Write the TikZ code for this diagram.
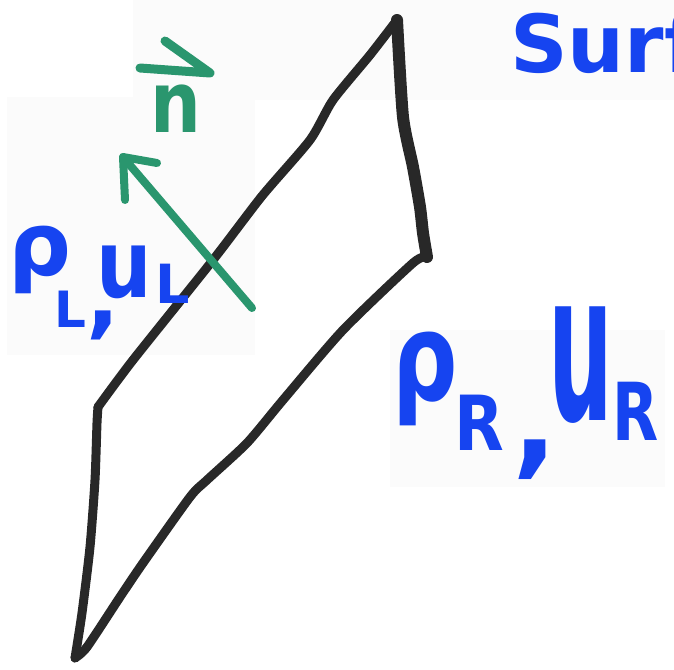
\documentclass[tikz,border=0pt]{standalone}
\usepackage{fontspec}
\setmainfont{DejaVu Sans}
\definecolor{ink}{RGB}{40,40,40}
\definecolor{penblue}{RGB}{22,68,240}
\definecolor{pengreen}{RGB}{42,150,110}
\definecolor{patch}{RGB}{251,251,251}
\newcommand{\piece}[4]{\rlap{\hspace{#1}\raisebox{#2}{\fontsize{#3}{#3}\selectfont #4}}}
\begin{document}
\begin{tikzpicture}[x=1pt,y=-1pt,
  edge/.style={draw=ink,line width=9pt,line cap=round,line join=round},
  thickedge/.style={draw=ink,line width=12pt,line cap=round,line join=round},
  normal/.style={draw=pengreen,line width=8pt,line cap=round,line join=round},
  bluetext/.style={text=penblue,font=\bfseries,inner sep=0pt,anchor=base west},
  greentext/.style={text=pengreen,font=\bfseries,inner sep=0pt,anchor=base west}]
\useasboundingbox (0,0) rectangle (674,669);
\fill[white] (0,0) rectangle (674,669);
% faint pasted patches
\fill[patch] (133,0) rectangle (674,100);
\fill[patch] (7,97) rectangle (255,355);
\fill[patch] (390,330) rectangle (665,487);

% surface corners
\coordinate (top) at (397,20);
\coordinate (left) at (98,407);
\coordinate (bot) at (75,658);
\coordinate (right) at (427,257);

% surface outline
\draw[edge] plot[smooth,tension=0.4] coordinates {(top) (370,55) (333,100) (310,140) (262,196) (213,260) (133,360) (left)};
\draw[edge] plot[smooth,tension=0.4] coordinates {(left) (97,423) (95,480) (90,547) (82,613) (bot)};
\draw[edge] plot[smooth,tension=0.4] coordinates {(bot) (87,647) (120,597) (143,563) (190,497) (207,480) (247,443) (283,400) (343,330) (413,263) (right)};
\draw[thickedge] plot[smooth,tension=0.4] coordinates {(right) (423,233) (420,207) (413,167) (403,117) (top)};

% normal vector
\coordinate (ntail) at (252,308);
\coordinate (ntip) at (123,157);
\draw[normal] (ntail) -- (ntip);
\draw[normal] (125,200) -- (ntip) -- (157,163);

% n-hat label
\node[greentext,font=\bfseries\fontsize{68}{68}\selectfont] (nlabel) at (150,132) {\scalebox{1.05}[1.25]{n}};
\draw[normal,line width=9pt] (165,41) -- (210,73) -- (140,68);

% blue labels
\begin{scope}
\clip (0,0) rectangle (674,669);
\node[bluetext,font=\bfseries\fontsize{80}{80}\selectfont] (surf) at (510,72) {Surf};
\end{scope}
\node[bluetext] (left label) at (8,297)
  {\makebox[180pt][l]{\piece{0pt}{22pt}{88}{ρ}\piece{46pt}{-30pt}{50}{L}\piece{78pt}{-30pt}{88}{,}\piece{88pt}{0pt}{82}{\scalebox{0.95}[1.15]{u}}\piece{147pt}{-6pt}{54}{L}}};
\node[bluetext] (right label) at (392,400)
  {\makebox[268pt][l]{\piece{0pt}{0pt}{122}{\scalebox{0.75}[1]{ρ}}\piece{62pt}{-50pt}{76}{\scalebox{0.85}[1]{R}}\piece{120pt}{-62pt}{120}{,}\piece{156pt}{-20pt}{130}{\scalebox{0.70}[1.6]{u}}\piece{220pt}{-40pt}{80}{\scalebox{0.75}[1]{R}}}};
\end{tikzpicture}
\end{document}
